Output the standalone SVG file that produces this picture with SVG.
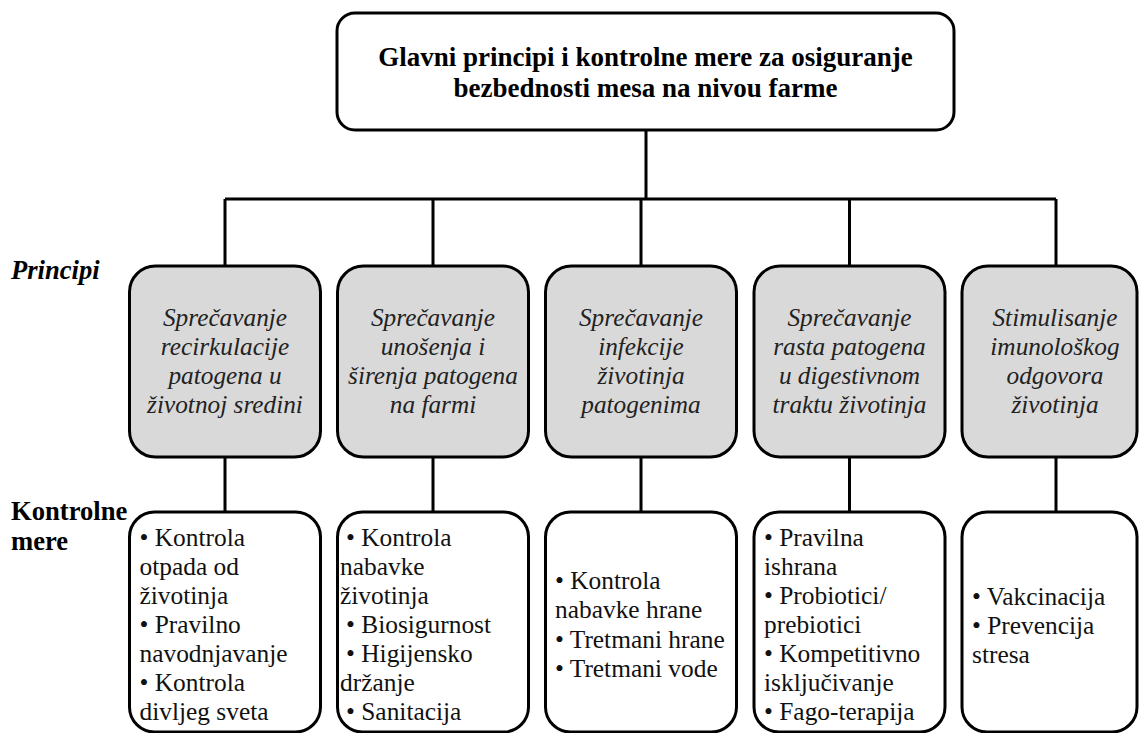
<svg xmlns="http://www.w3.org/2000/svg" width="1139" height="733" viewBox="0 0 1139 733">
<style>
  .box{fill:#ffffff;stroke:#000;stroke-width:3}
  .pbox{fill:#d9d9d9;stroke:#000;stroke-width:3}
  .conn{fill:none;stroke:#000;stroke-width:3}
  text{font-family:'Liberation Serif','DejaVu Serif',serif}
  .title{font-weight:bold;font-size:27px;text-anchor:middle;fill:#000}
  .lab{font-weight:bold;font-size:26.6px;fill:#000}
  .labi{font-style:italic}
  .pt{font-style:italic;font-size:25.3px;text-anchor:middle;fill:#222}
  .mt{font-size:25.4px;fill:#111}
</style>
<rect width="1139" height="733" fill="#ffffff"/>
<g id="connectors">
  <path class="conn" d="M646,130 V199 M225,199 H1056 M225,199 V266 M433,199 V266 M641,199 V266 M849.5,199 V266 M1056,199 V266"/>
  <path class="conn" d="M225,457 V512 M433,457 V512 M641,457 V512 M849.5,457 V512 M1056,457 V512"/>
</g>
<g id="labels">
  <text class="lab labi" x="11" y="279">Principi</text>
  <text class="lab" x="11" y="520">Kontrolne</text>
  <text class="lab" x="11" y="550">mere</text>
</g>
<g id="root">
  <rect class="box" x="337" y="13" width="617" height="117" rx="18"/>
  <text class="title" x="645.5" y="66">Glavni principi i kontrolne mere za osiguranje</text>
  <text class="title" x="645.5" y="97">bezbednosti mesa na nivou farme</text>
</g>
<g id="p1">
  <rect class="pbox" x="129.5" y="266" width="191" height="191" rx="26"/>
  <text class="pt" x="225" y="326">Sprečavanje</text>
  <text class="pt" x="225" y="355">recirkulacije</text>
  <text class="pt" x="225" y="384">patogena u</text>
  <text class="pt" x="225" y="413">životnoj sredini</text>
</g>
<g id="p2">
  <rect class="pbox" x="337.5" y="266" width="191" height="191" rx="26"/>
  <text class="pt" x="433" y="326">Sprečavanje</text>
  <text class="pt" x="433" y="355">unošenja i</text>
  <text class="pt" x="433" y="384">širenja patogena</text>
  <text class="pt" x="433" y="413">na farmi</text>
</g>
<g id="p3">
  <rect class="pbox" x="545.5" y="266" width="191" height="191" rx="26"/>
  <text class="pt" x="641" y="326">Sprečavanje</text>
  <text class="pt" x="641" y="355">infekcije</text>
  <text class="pt" x="641" y="384">životinja</text>
  <text class="pt" x="641" y="413">patogenima</text>
</g>
<g id="p4">
  <rect class="pbox" x="754" y="266" width="191" height="191" rx="26"/>
  <text class="pt" x="849.5" y="326">Sprečavanje</text>
  <text class="pt" x="849.5" y="355">rasta patogena</text>
  <text class="pt" x="849.5" y="384">u digestivnom</text>
  <text class="pt" x="849.5" y="413">traktu životinja</text>
</g>
<g id="p5">
  <rect class="pbox" x="962" y="266" width="175" height="191" rx="26"/>
  <text class="pt" x="1055" y="326">Stimulisanje</text>
  <text class="pt" x="1055" y="355">imunološkog</text>
  <text class="pt" x="1055" y="384">odgovora</text>
  <text class="pt" x="1055" y="413">životinja</text>
</g>
<g id="m1">
  <rect class="box" x="129.5" y="512" width="191" height="220" rx="25"/>
  <text class="mt" x="139.5" y="546">• Kontrola</text>
  <text class="mt" x="139.5" y="575">otpada od</text>
  <text class="mt" x="139.5" y="603.5">životinja</text>
  <text class="mt" x="139.5" y="632.5">• Pravilno</text>
  <text class="mt" x="139.5" y="662">navodnjavanje</text>
  <text class="mt" x="139.5" y="691">• Kontrola</text>
  <text class="mt" x="139.5" y="720">divljeg sveta</text>
</g>
<g id="m2">
  <rect class="box" x="337.5" y="512" width="191" height="220" rx="25"/>
  <text class="mt" x="346" y="546">• Kontrola</text>
  <text class="mt" x="340" y="575">nabavke</text>
  <text class="mt" x="340" y="603.5">životinja</text>
  <text class="mt" x="346" y="632.5">• Biosigurnost</text>
  <text class="mt" x="346" y="662">• Higijensko</text>
  <text class="mt" x="340" y="691">držanje</text>
  <text class="mt" x="346" y="720">• Sanitacija</text>
</g>
<g id="m3">
  <rect class="box" x="545.5" y="512" width="191" height="220" rx="25"/>
  <text class="mt" x="555" y="589">• Kontrola</text>
  <text class="mt" x="555" y="618">nabavke hrane</text>
  <text class="mt" x="555" y="648">• Tretmani hrane</text>
  <text class="mt" x="555" y="677">• Tretmani vode</text>
</g>
<g id="m4">
  <rect class="box" x="754" y="512" width="191" height="220" rx="25"/>
  <text class="mt" x="764" y="546">• Pravilna</text>
  <text class="mt" x="764" y="575">ishrana</text>
  <text class="mt" x="764" y="603.5">• Probiotici/</text>
  <text class="mt" x="764" y="632.5">prebiotici</text>
  <text class="mt" x="764" y="662">• Kompetitivno</text>
  <text class="mt" x="764" y="691">isključivanje</text>
  <text class="mt" x="764" y="720">• Fago-terapija</text>
</g>
<g id="m5">
  <rect class="box" x="962" y="512" width="175" height="220" rx="25"/>
  <text class="mt" x="972" y="605">• Vakcinacija</text>
  <text class="mt" x="972" y="634">• Prevencija</text>
  <text class="mt" x="972" y="663">stresa</text>
</g>
</svg>
